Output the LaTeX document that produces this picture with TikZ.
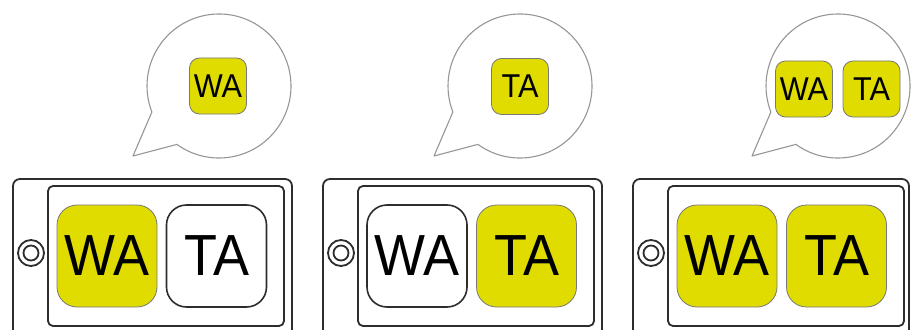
\documentclass[tikz,border=0pt]{standalone}
\usepackage{fontspec}
\setmainfont{Liberation Sans}
\definecolor{keyyellow}{RGB}{224,220,0}
\definecolor{frame}{RGB}{45,45,45}
\definecolor{bubbleline}{RGB}{150,150,150}
\definecolor{keyline}{RGB}{120,120,120}
\begin{document}
\begin{tikzpicture}[x=1pt,y=-1pt,
  outerbox/.style={draw=frame,line width=1.8pt,rounded corners=7pt},
  innerbox/.style={draw=frame,line width=1.8pt,rounded corners=5pt},
  ring/.style={draw=frame,line width=1.8pt},
  bigkey/.style={minimum width=100pt,minimum height=102pt,rounded corners=20pt,inner sep=0pt,
    font=\fontsize{58}{58}\selectfont},
  keyon/.style={fill=keyyellow,draw=keyline,line width=0.8pt},
  keyoff/.style={fill=white,draw=frame,line width=1.6pt},
  smallkey/.style={minimum width=57pt,minimum height=56pt,rounded corners=10pt,inner sep=0pt,
    fill=keyyellow,draw=keyline,line width=0.8pt,font=\fontsize{33}{33}\selectfont},
  bubble/.style={draw=bubbleline,line width=1.1pt,fill=white,line join=round}]
\useasboundingbox (0,0) rectangle (912,329);
\clip (0,0) rectangle (912,329);
\foreach \dx/\i/\lf/\rf/\orr in {0/1/keyon/keyoff/292,310/2/keyoff/keyon/292,620/3/keyon/keyon/289}{
  \begin{scope}[xshift=\dx]
    \draw[outerbox] (13,179) rectangle (\orr,345);
    \draw[innerbox] (48,186) rectangle (284,326);
    \draw[ring] (31,253) circle[radius=13];
    \draw[ring] (31,253) circle[radius=7.5];
    \node[bigkey,\lf] (L\i) at (107,256) {\scalebox{0.93}[1]{WA}};
    \node[bigkey,\rf] (R\i) at (216.5,256) {\scalebox{0.93}[1]{TA}};
  \end{scope}
}
\foreach \cx/\cy in {219/86,520/86,838/86}{
  \begin{scope}[shift={(\cx,\cy)}]
    \draw[bubble] (158.8:72) -- (-86,70) -- (125.8:72) arc[start angle=125.8,end angle=-201.2,radius=72] -- cycle;
  \end{scope}
}
\node[smallkey] (b1) at (218,86) {\scalebox{0.93}[1]{WA}};
\node[smallkey] (b2) at (520,86.5) {\scalebox{0.93}[1]{TA}};
\node[smallkey] (b3l) at (804,89) {\scalebox{0.93}[1]{WA}};
\node[smallkey] (b3r) at (871.5,89) {\scalebox{0.93}[1]{TA}};
\end{tikzpicture}
\end{document}
